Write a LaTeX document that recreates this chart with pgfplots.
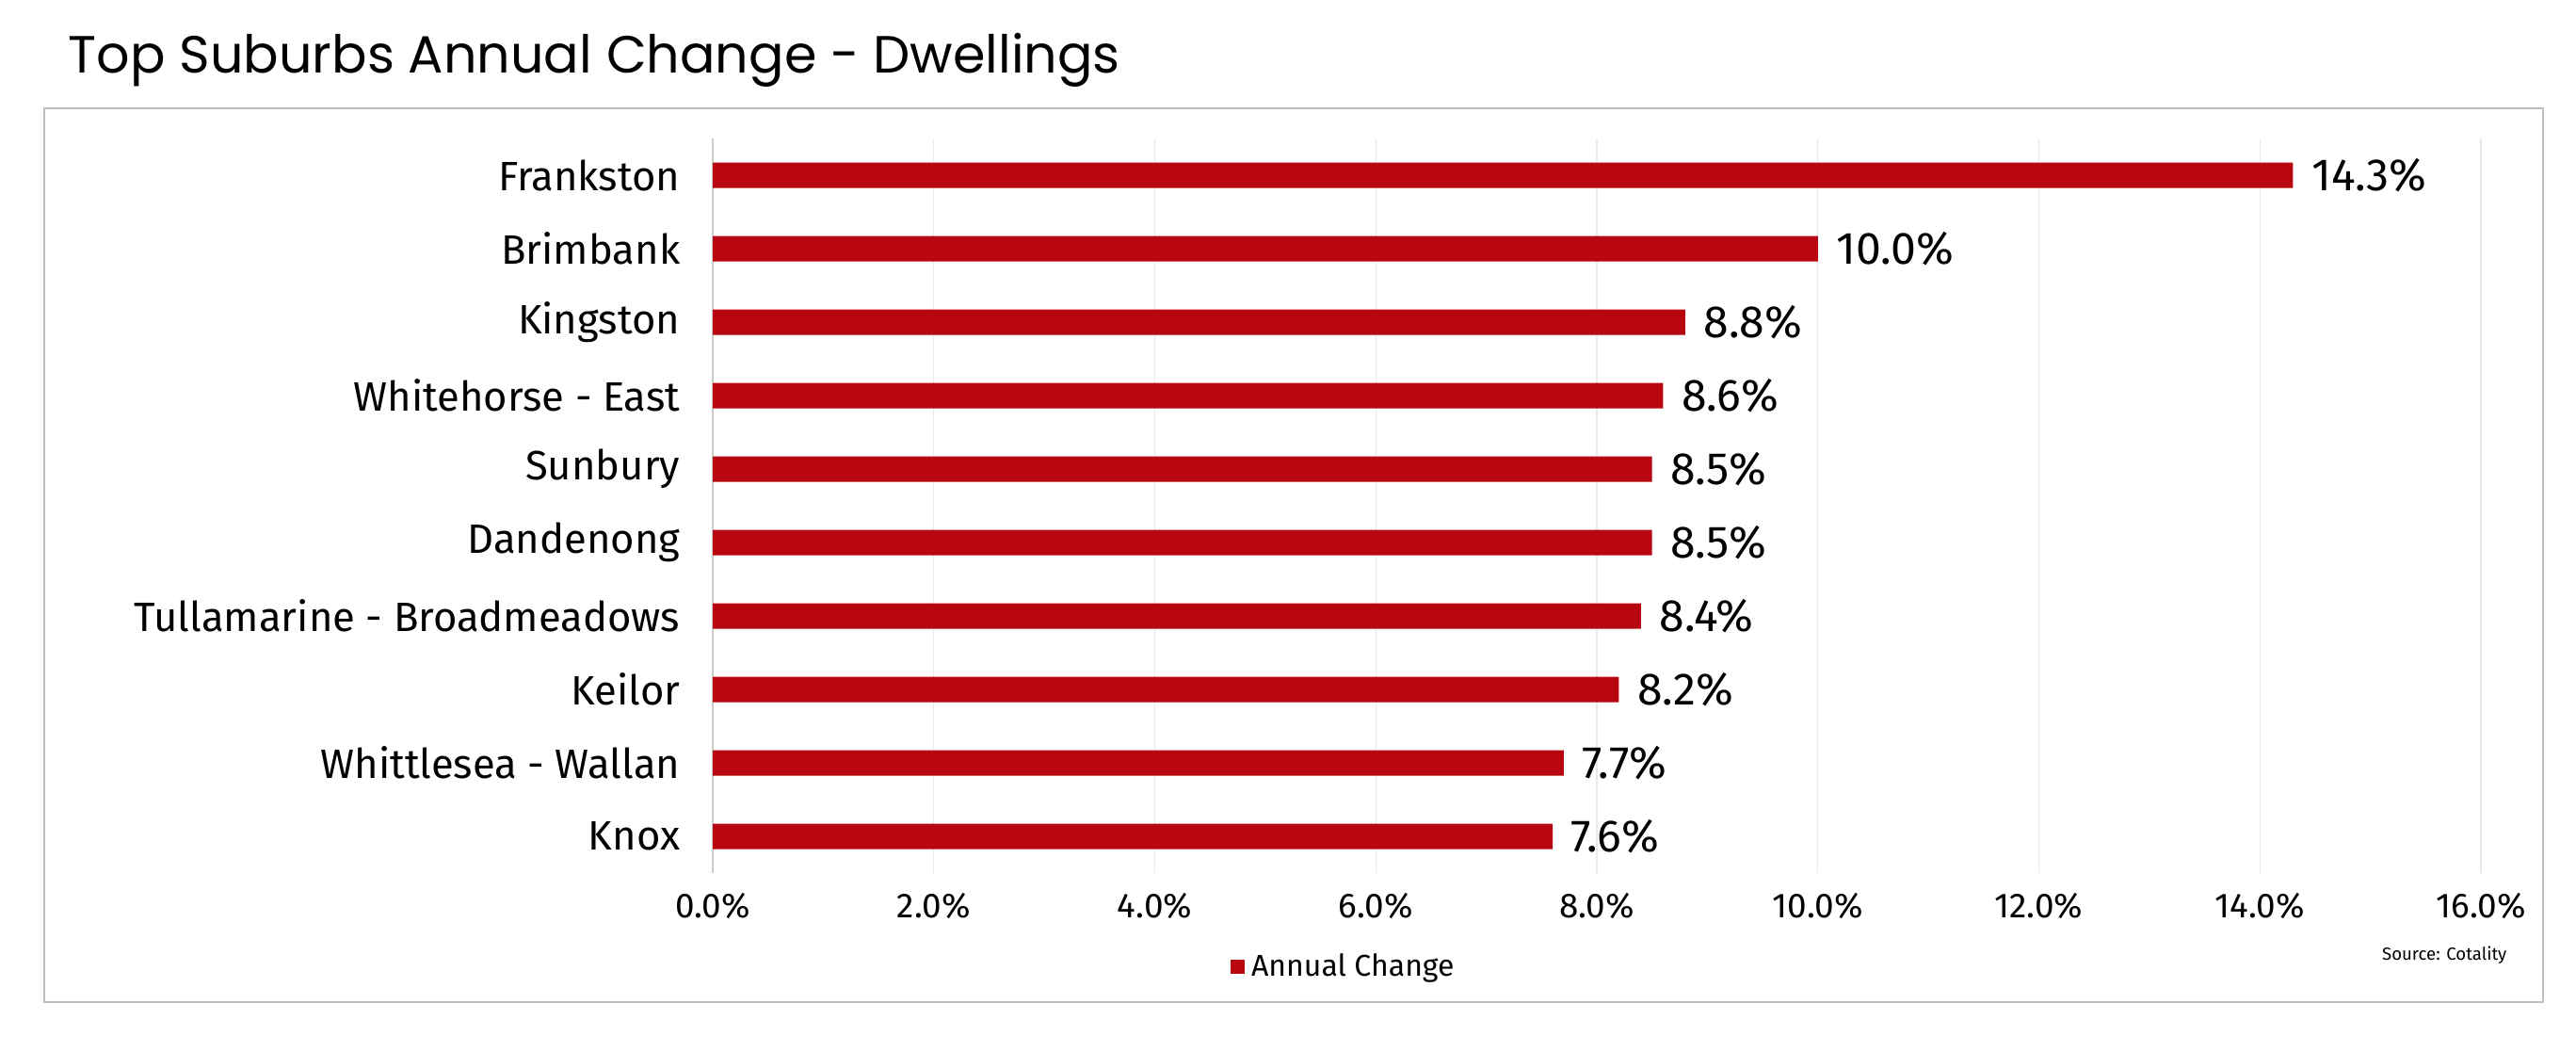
\documentclass[border=0pt]{standalone}
\usepackage{pgfplots}
\pgfplotsset{compat=1.18}
\usepackage{fontspec}
\setmainfont{Fira Sans}
\newfontfamily\titlefont{Poppins}

\definecolor{barred}{HTML}{B80710}
\definecolor{gridgray}{HTML}{E8E8E8}
\definecolor{framegray}{HTML}{BFBFBF}

\begin{document}
\begin{tikzpicture}
\path[use as bounding box] (0,0) rectangle (27.36cm,11.16cm);
% outer frame and title
\draw[framegray, line width=0.25mm] (0.47cm,0.52cm) rectangle (27.01cm,10.01cm);
\node[anchor=base west, inner sep=0pt, font=\titlefont\fontsize{15.8}{19}\selectfont] at (0.72cm,10.39cm) {Top Suburbs Annual Change - Dwellings};
\node[anchor=base east, inner sep=0pt, font=\fontsize{5.3}{6}\selectfont] at (26.63cm,0.97cm) {Source: Cotality};

\begin{axis}[
    at={(7.57cm,1.89cm)}, anchor=south west,
    scale only axis, width=18.78cm, height=7.80cm,
    xbar, bar width=2.7mm, bar shift=0pt,
    xmin=0, xmax=16, ymin=-0.5, ymax=9.5,
    y dir=reverse,
    xtick={0,2,...,16},
    ytick={0,...,9},
    yticklabels={Frankston,Brimbank,Kingston,Whitehorse - East,Sunbury,Dandenong,Tullamarine - Broadmeadows,Keilor,Whittlesea - Wallan,Knox},
    xticklabel={\pgfmathprintnumber[fixed,fixed zerofill,precision=1]{\tick}\%},
    /pgf/number format/assume math mode=true,
    xmajorgrids, major grid style={gridgray, line width=0.3pt},
    axis lines*=left,
    x axis line style={draw=none},
    y axis line style={draw=black!20, line width=0.5pt},
    major tick length=0pt,
    xticklabel style={anchor=north, inner sep=0pt, yshift=-2.1mm, font=\fontsize{10.5}{12}\selectfont},
    yticklabel style={anchor=east, inner sep=0pt, xshift=-3.4mm, font=\fontsize{12.4}{15}\selectfont},
    point meta=x,
    nodes near coords={\pgfmathprintnumber[fixed,fixed zerofill,precision=1]{\pgfplotspointmeta}\%},
    nodes near coords style={anchor=west, inner sep=0pt, xshift=1.9mm, font=\fontsize{13.7}{16}\selectfont, text=black},
    legend style={at={(0.358,-0.128)}, anchor=center, draw=none, fill=none, font=\fontsize{9.1}{11}\selectfont, inner sep=0pt},
    legend image code/.code={\fill[barred] (0cm,-0.75mm) rectangle (1.5mm,0.75mm);},
]
\addplot[fill=barred, draw=none] coordinates {
    (14.3,0) (10.0,1) (8.8,2) (8.6,3) (8.5,4) (8.5,5) (8.4,6) (8.2,7) (7.7,8) (7.6,9)
};
\addlegendentry{Annual Change}
\end{axis}
\end{tikzpicture}
\end{document}
